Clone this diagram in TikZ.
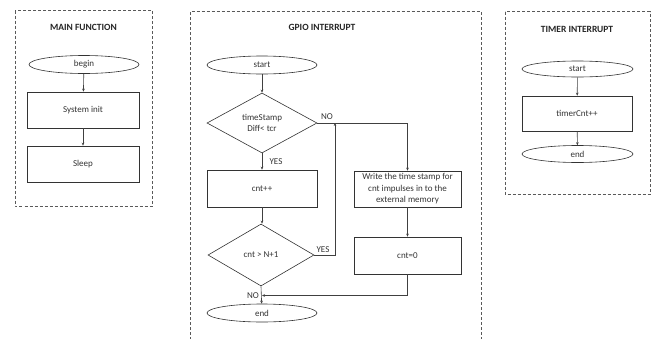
\documentclass[tikz,border=0pt]{standalone}
\usepackage{fontspec}
\setmainfont{Carlito}
\usetikzlibrary{shapes.geometric,arrows.meta}
\begin{document}
\begin{tikzpicture}[x=1pt,y=-1pt,
  font=\fontsize{9}{11}\selectfont,
  every node/.style={text=black!80},
  frame/.style={draw=black!65,line width=0.6pt,dash pattern=on 3pt off 2pt},
  term/.style={ellipse,draw=black!80,line width=0.6pt,minimum width=110pt,minimum height=18pt,inner sep=0pt},
  proc/.style={rectangle,draw=black!80,line width=0.6pt,minimum width=112pt,minimum height=36pt,inner sep=0pt,align=center},
  decis/.style={diamond,draw=black!80,line width=0.6pt,inner sep=0pt,align=center},
  title/.style={font=\fontsize{9.5}{11}\selectfont\bfseries,text=black!85},
  lbl/.style={inner sep=0pt},
  conn/.style={draw=black!75,line width=0.6pt,-{Stealth[length=3pt,width=2.6pt]}},
  plain/.style={draw=black!75,line width=0.6pt}]
\useasboundingbox (0,0) rectangle (654,338);
% frames
\draw[frame] (15,10.5) rectangle (152.5,206);
\draw[frame] (190,340) -- (190,11.5) -- (481,11.5) -- (481,340);
\draw[frame] (505,11.5) rectangle (650,194);
% MAIN FUNCTION
\node[title] (tmain) at (83.5,27) {MAIN FUNCTION};
\node[term] (begin) at (84,64.5) {begin};
\node[proc] (sysinit) at (83,110) {System init};
\node[proc] (sleep) at (83,164) {Sleep};
\draw[conn] (begin) -- (sysinit);
\draw[conn] (sysinit) -- (sleep);
% GPIO INTERRUPT
\node[title] (tgpio) at (322,27) {GPIO INTERRUPT};
\node[term] (gstart) at (262,65) {start};
\node[decis,minimum width=110pt,minimum height=60pt] (d1) at (262,123) {timeStamp\\Diff< tcr};
\node[proc,minimum width=110pt,minimum height=37pt] (cnt) at (262,188.5) {cnt++};
\node[decis,minimum width=106pt,minimum height=62pt] (d2) at (261,255) {cnt > N+1};
\node[term] (gend) at (262,313) {end};
\node[proc,minimum width=107pt,minimum height=36pt,font=\fontsize{9}{11.5}\selectfont] (write) at (407.5,189) {Write the time stamp for\\cnt impulses in to the\\external memory};
\node[proc,minimum width=107pt,minimum height=37pt] (cnt0) at (407.5,255.5) {cnt=0};
\coordinate (j1) at (335,123);
\coordinate (j2) at (262,295.5);
\draw[conn] (gstart) -- (d1);
\draw[conn] (d1) -- (cnt);
\draw[conn] (cnt) -- (cnt.south |- d2.north);
\draw[conn] (d1.east) -| (write.north);
\draw[conn] (write) -- (cnt0);
\draw[conn] (d2.east) -| (j1);
\draw[conn] (cnt0.south) |- (j2);
\draw[conn] (d2.south) -- (gend);
\node[lbl] (no1) at (327,117) {NO};
\node[lbl] (yes1) at (276,162) {YES};
\node[lbl] (yes2) at (323,250) {YES};
\node[lbl] (no2) at (253,295.5) {NO};
% TIMER INTERRUPT
\node[title] (ttimer) at (577,29) {TIMER INTERRUPT};
\node[term,minimum width=111pt,minimum height=16pt] (tstart) at (577.5,69) {start};
\node[proc,minimum width=110pt,minimum height=35pt] (tcnt) at (577,113.5) {timerCnt++};
\node[term,minimum width=111pt,minimum height=17pt] (tend) at (577.5,154) {end};
\draw[conn] (tstart) -- (tcnt);
\draw[conn] (tcnt) -- (tend);
\end{tikzpicture}
\end{document}
